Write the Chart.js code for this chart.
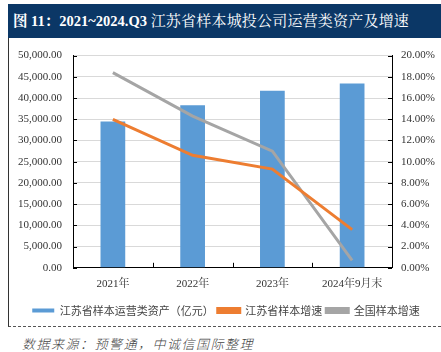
<!DOCTYPE html>
<html>
<head>
<meta charset="utf-8">
<script src="https://cdn.jsdelivr.net/npm/chart.js@4.4.1/dist/chart.umd.min.js"></script>
<style>
  html, body { margin: 0; padding: 0; background: #fff; }
  body { width: 441px; height: 352px; position: relative; overflow: hidden; }
  #title {
    position: absolute; left: 8px; top: 4px; width: 433px; height: 34px;
    background: #0b3766; color: #fff;
    font: bold 14.5px "Liberation Serif", "Noto Serif CJK SC", "Noto Sans CJK SC", serif;
    line-height: 34px; padding-left: 5px; box-sizing: border-box; white-space: nowrap;
  }
  #title span { font-weight: normal; font-size: 15px; letter-spacing: 0.2px; }
  #frame {
    position: absolute; left: 8px; top: 38px; width: 433px; height: 289px;
    border-left: 1px solid #333; border-bottom: 1px dashed #555; box-sizing: border-box;
  }
  #wrap { position: absolute; left: 9px; top: 38px; width: 432px; height: 288px; }
  #source {
    position: absolute; left: 22px; top: 334px;
    font: italic 300 13px "Noto Sans CJK SC", sans-serif; letter-spacing: 1.5px; color: #444;
    white-space: nowrap;
  }
</style>
</head>
<body>
<div id="title">图 11：2021~2024.Q3 <span>江苏省样本城投公司运营类资产及增速</span></div>
<div id="frame"></div>
<div id="wrap"><canvas id="chart"></canvas></div>
<div id="source">数据来源：预警通，中诚信国际整理</div>

<script>
// 数据
const categories = ['2021年', '2022年', '2023年', '2024年9月末'];
const assets = [34500, 38300, 41700, 43400];          // 亿元
const jiangsuGrowth = [14.0, 10.6, 9.3, 3.6];         // %
const nationalGrowth = [18.4, 14.3, 11.0, 0.7];       // %

const serif = "'Liberation Serif', 'Noto Serif CJK SC', 'Noto Sans CJK SC', serif";

// 内侧刻度线
const innerTicks = {
  id: 'innerTicks',
  afterDraw(chart) {
    const { ctx, chartArea, scales } = chart;
    ctx.save();
    ctx.strokeStyle = '#000';
    ctx.lineWidth = 1;
    scales.y.ticks.forEach(t => {
      const y = Math.round(scales.y.getPixelForValue(t.value)) + 0.5;
      ctx.beginPath(); ctx.moveTo(chartArea.left, y); ctx.lineTo(chartArea.left + 4, y); ctx.stroke();
    });
    scales.y1.ticks.forEach(t => {
      const y = Math.round(scales.y1.getPixelForValue(t.value)) + 0.5;
      ctx.beginPath(); ctx.moveTo(chartArea.right - 4, y); ctx.lineTo(chartArea.right, y); ctx.stroke();
    });
    for (let i = 1; i < categories.length; i++) {
      const x = Math.round((scales.x.getPixelForTick(i - 1) + scales.x.getPixelForTick(i)) / 2) + 0.5;
      ctx.beginPath(); ctx.moveTo(x, chartArea.bottom); ctx.lineTo(x, chartArea.bottom - 5); ctx.stroke();
    }
    ctx.restore();
  }
};

new Chart(document.getElementById('chart'), {
  data: {
    labels: categories,
    datasets: [
      {
        type: 'bar',
        label: '江苏省样本运营类资产（亿元）',
        data: assets,
        backgroundColor: '#5b9bd5',
        yAxisID: 'y',
        categoryPercentage: 1,
        barPercentage: 0.31,
        order: 2,
      },
      {
        type: 'line',
        label: '江苏省样本增速',
        data: jiangsuGrowth,
        borderColor: '#ed7d31',
        backgroundColor: '#ed7d31',
        borderWidth: 3,
        pointRadius: 0,
        tension: 0,
        yAxisID: 'y1',
        order: 0,
      },
      {
        type: 'line',
        label: '全国样本增速',
        data: nationalGrowth,
        borderColor: '#a5a5a5',
        backgroundColor: '#a5a5a5',
        borderWidth: 3,
        pointRadius: 0,
        tension: 0,
        yAxisID: 'y1',
        order: 1,
      },
    ],
  },
  options: {
    responsive: true,
    maintainAspectRatio: false,
    animation: false,
    layout: { padding: { top: 5, left: 6, right: 4, bottom: 0 } },
    plugins: {
      tooltip: { enabled: false },
      legend: {
        position: 'bottom',
        labels: {
          boxWidth: 22,
          boxHeight: 4,
          padding: 4,
          color: '#444',
          font: { size: 11, family: "'Noto Sans CJK SC', sans-serif" },
          sort: (a, b) => a.datasetIndex - b.datasetIndex,
        },
      },
    },
    scales: {
      x: {
        grid: { display: false, drawTicks: false },
        border: { color: '#000', width: 1 },
        ticks: { color: '#333', padding: 10, font: { size: 11, family: serif } },
      },
      y: {
        position: 'left',
        min: 0, max: 50000,
        afterFit(s) { s.width = 58; },
        grid: { color: '#d9d9d9', drawTicks: false },
        border: { color: '#000', width: 1 },
        ticks: {
          stepSize: 5000, color: '#333', padding: 11,
          font: { size: 11, family: serif },
          callback: v => v.toLocaleString('en-US', { minimumFractionDigits: 2, maximumFractionDigits: 2 }),
        },
      },
      y1: {
        position: 'right',
        min: 0, max: 20,
        afterFit(s) { s.width = 45; },
        grid: { display: false, drawTicks: false },
        border: { color: '#000', width: 1 },
        ticks: {
          stepSize: 2, color: '#333', padding: 9,
          font: { size: 11, family: serif },
          callback: v => v.toFixed(2) + '%',
        },
      },
    },
  },
  plugins: [innerTicks],
});
</script>
</body>
</html>
